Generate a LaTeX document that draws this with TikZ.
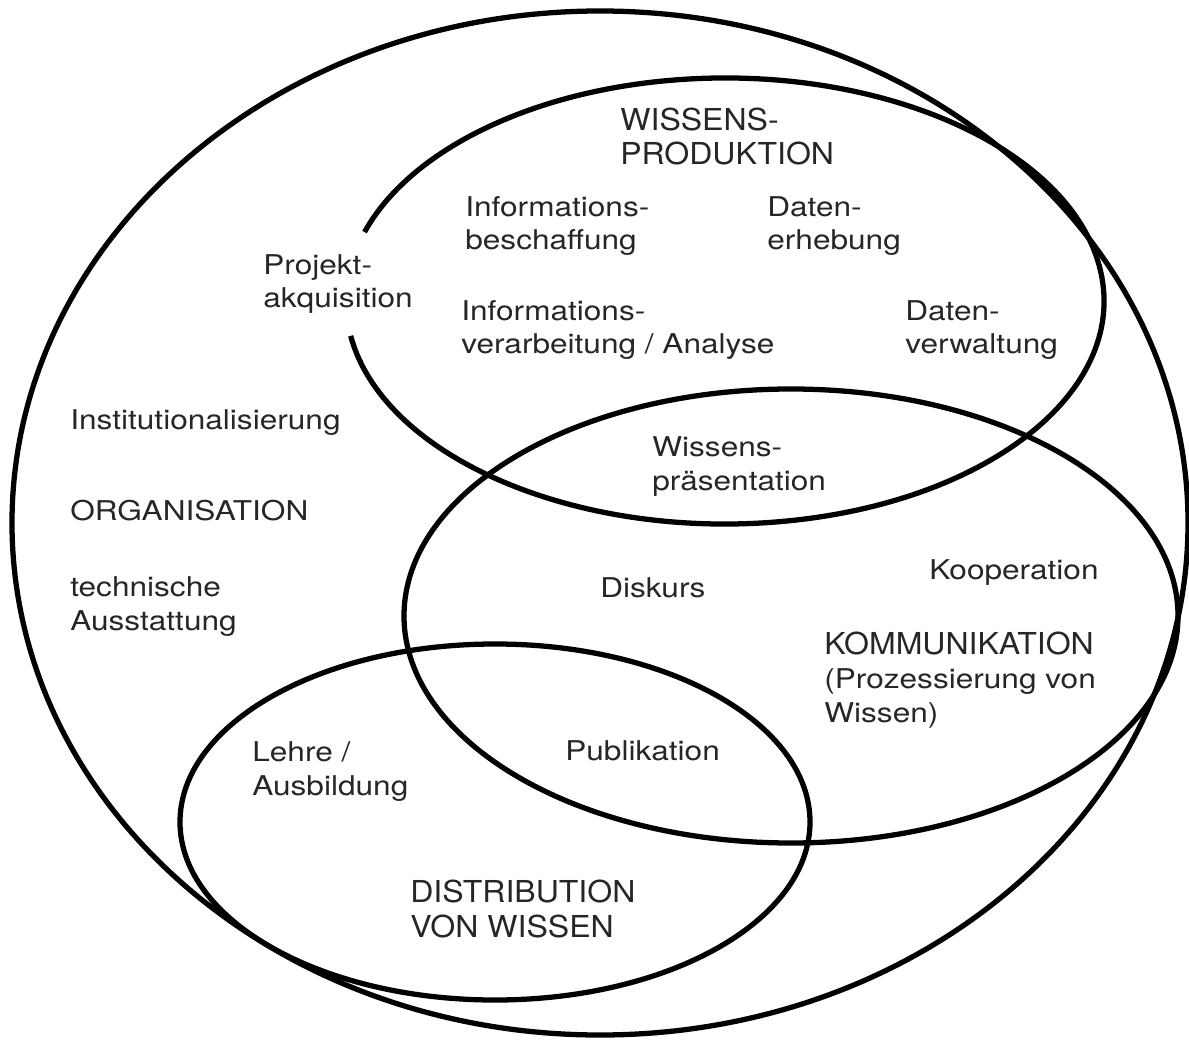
\documentclass[tikz,border=0pt]{standalone}
\usepackage{fontspec}
\setmainfont{TeX Gyre Heros}
\newfontfamily\bodyfont[FakeStretch=1.16]{TeX Gyre Heros}
\newfontfamily\headfont[FakeStretch=1.06]{TeX Gyre Heros}
\newcommand\bodytext{\bodyfont\fontsize{15.5}{19.2}\selectfont}
\newcommand\headtext{\headfont\fontsize{17.2}{19.9}\selectfont}

\begin{document}
\begin{tikzpicture}[
    x=0.02cm, y=0.02cm,
    ring/.style={draw=black, line width=3pt},
    textnode/.style={
        anchor=base west, align=left, inner sep=0pt,
        text=black!85, font=\bodytext
      },
    headnode/.style={textnode, font=\headtext},
  ]
  \useasboundingbox (0,0) rectangle (1189,1039);

  \coordinate (OC) at (600,516);
  \coordinate (PC) at (725,738);
  \coordinate (KC) at (791,423);
  \coordinate (DC) at (495,217);

  \draw[ring] (OC) ellipse [x radius=588, y radius=512];
  \draw[ring] (PC) ++(189:379 and 223)
    arc [start angle=189, end angle=522, x radius=379, y radius=223];
  \draw[ring] (KC) ellipse [x radius=387, y radius=227];
  \draw[ring] (DC) ellipse [x radius=315, y radius=178];

  \node[headnode] (WP) at (620,874) {WISSENS-\\PRODUKTION};
  \node[textnode] (IB) at (465,789) {Informations-\\beschaffung};
  \node[textnode] (DE) at (767,789) {Daten-\\erhebung};
  \node[textnode] (PA) at (263,731) {Projekt-\\akquisition};
  \node[textnode] (IV) at (461,685) {Informations-\\verarbeitung / Analyse};
  \node[textnode] (DV) at (905,685) {Daten-\\verwaltung};
  \node[textnode] (INS) at (70,610) {Institutionalisierung};
  \node[textnode] (WPR) at (652,549) {Wissens-\\präsentation};
  \node[textnode] (ORG) at (70,519) {ORGANISATION};
  \node[textnode] (TA) at (70,409) {technische\\Ausstattung};
  \node[textnode] (DIS) at (600,442) {Diskurs};
  \node[textnode] (KOO) at (929,460) {Kooperation};
  \node[textnode] (KOM) at (824,317) {{\headtext KOMMUNIKATION}\\(Prozessierung von\\Wissen)};
  \node[textnode] (LA) at (252,244) {Lehre /\\Ausbildung};
  \node[textnode] (PUB) at (565,279) {Publikation};
  \node[headnode] (DVW) at (410,102) {DISTRIBUTION\\VON WISSEN};
\end{tikzpicture}
\end{document}
